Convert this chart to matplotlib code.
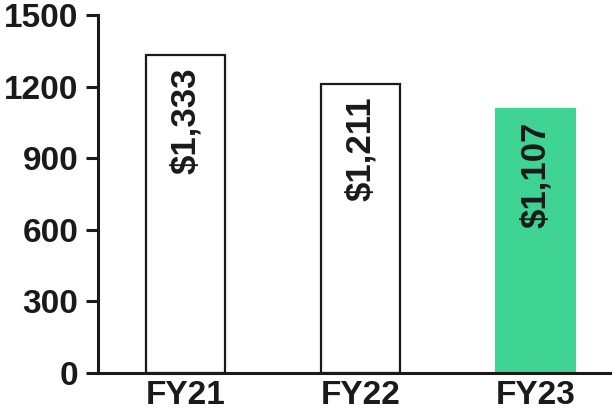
import matplotlib.pyplot as plt

# data
years = ['FY21', 'FY22', 'FY23']
values = [1333, 1211, 1107]
labels = ['$1,333', '$1,211', '$1,107']
colors = ['white', 'white', '#40d494']
edges = ['#1a1a1a', '#1a1a1a', '#40d494']

plt.rcParams['font.family'] = ['Liberation Sans', 'DejaVu Sans']

fig = plt.figure(figsize=(6.12, 4.15), dpi=100)
ax = fig.add_axes([0.160, 0.101, 0.840, 0.863])

x = range(len(years))
bars = ax.bar(x, values, width=0.45, color=colors, edgecolor=edges, linewidth=1.6)

for b, lab in zip(bars, labels):
    ax.annotate(lab, (b.get_x() + b.get_width() / 2, b.get_height()),
                xytext=(0, -9), textcoords='offset points',
                rotation=90, ha='center', va='top',
                fontsize=25, fontweight='bold', color='#1a1a1a')

ax.set_xlim(-0.5, 2.437)
ax.set_ylim(0, 1500)
ax.set_yticks([0, 300, 600, 900, 1200, 1500])
ax.set_xticks(list(x))
ax.set_xticklabels(years)

for s in ['top', 'right']:
    ax.spines[s].set_visible(False)
for s in ['left', 'bottom']:
    ax.spines[s].set_linewidth(2.2)
    ax.spines[s].set_color('#1a1a1a')

ax.tick_params(axis='y', length=9, width=2.2, color='#1a1a1a', pad=5,
               labelsize=24, labelcolor='#1a1a1a')
ax.tick_params(axis='x', length=0, pad=5, labelsize=24, labelcolor='#1a1a1a')
for t in ax.get_xticklabels() + ax.get_yticklabels():
    t.set_fontweight('bold')

fig.savefig('out.png', dpi=100)
